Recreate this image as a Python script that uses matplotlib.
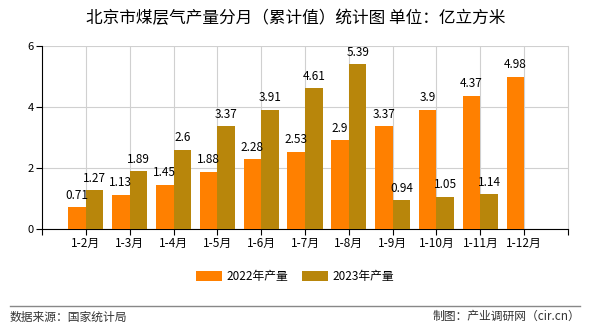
import numpy as np
import matplotlib.pyplot as plt

plt.rcParams['font.family'] = ['Noto Sans CJK SC', 'DejaVu Sans']

months = ['1-2月', '1-3月', '1-4月', '1-5月', '1-6月', '1-7月', '1-8月',
          '1-9月', '1-10月', '1-11月', '1-12月']
y2022 = [0.71, 1.13, 1.45, 1.88, 2.28, 2.53, 2.9, 3.37, 3.9, 4.37, 4.98]
y2023 = [1.27, 1.89, 2.6, 3.37, 3.91, 4.61, 5.39, 0.94, 1.05, 1.14]
yticks = [0, 2, 4, 6]

c22 = '#ff8000'
c23 = '#b8860b'
w = 0.4

fig = plt.figure(figsize=(5.9, 3.3), dpi=100)
ax = fig.add_axes([0.0712, 0.306, 0.8915, 0.555])

x = np.arange(len(months))
b1 = ax.bar(x[:len(y2022)] - w / 2, y2022, width=w, color=c22, label='2022年产量', zorder=3)
b2 = ax.bar(x[:len(y2023)] + w / 2, y2023, width=w, color=c23, label='2023年产量', zorder=3)

for rect, v in zip(b1, y2022):
  ax.annotate(str(v), (rect.get_x() + rect.get_width() / 2, v), xytext=(0, 4),
              textcoords='offset points', ha='center', va='bottom', fontsize=8.5)
for rect, v in zip(b2, y2023):
  ax.annotate(str(v), (rect.get_x() + rect.get_width() / 2, v), xytext=(0, 4),
              textcoords='offset points', ha='center', va='bottom', fontsize=8.5)

ax.set_xlim(-1, len(months))
ax.set_ylim(0, 6)
ax.set_xticks(x)
ax.set_xticks([-1, len(months)], minor=True)
ax.set_xticklabels(months, fontsize=8.5)
ax.set_yticks(yticks)
ax.set_yticklabels([str(t) for t in yticks], fontsize=8)
ax.grid(True, color='#d0d0d0', linewidth=0.8, zorder=0)
ax.spines['top'].set_visible(False)
ax.spines['right'].set_color('#d0d0d0')
ax.spines['left'].set_color('black')
ax.spines['bottom'].set_color('black')
ax.tick_params(length=4, width=0.8, pad=2)
ax.tick_params(axis='x', which='minor', length=4, width=0.8)

fig.text(0.502, 0.945, '北京市煤层气产量分月（累计值）统计图 单位：亿立方米',
         ha='center', va='center', fontsize=12)

fig.legend(handles=[b1, b2], loc='center', bbox_to_anchor=(0.5, 0.162), ncol=2,
           frameon=False, fontsize=8.5, handlelength=2.2, handleheight=0.9,
           columnspacing=1.2, handletextpad=0.4)

fig.add_artist(plt.Line2D([0.017, 0.983], [0.073, 0.073], color='#888888', linewidth=1))
fig.text(0.017, 0.04, '数据来源：国家统计局', ha='left', va='center', fontsize=8.5, color='#333333')
fig.text(0.983, 0.04, '制图：产业调研网（cir.cn）', ha='right', va='center', fontsize=8.5, color='#333333')

fig.savefig('out.png', dpi=100)
